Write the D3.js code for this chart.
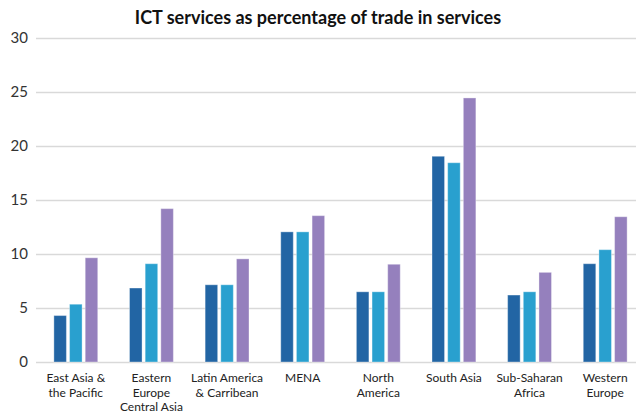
<!DOCTYPE html>
<html>
<head>
<meta charset="utf-8">
<script src="https://cdn.jsdelivr.net/npm/d3@7"></script>
<style>
  html, body { margin: 0; padding: 0; background: #fff; }
  svg { display: block; }
</style>
</head>
<body>
<svg id="chart" width="636" height="417"></svg>
<script>
// Regions (multi-line labels) and the three series shown per region
const regions = [
  ["East Asia &", "the Pacific"],
  ["Eastern", "Europe", "Central Asia"],
  ["Latin America", "& Carribean"],
  ["MENA"],
  ["North", "America"],
  ["South Asia"],
  ["Sub-Saharan", "Africa"],
  ["Western", "Europe"]
];
const seriesA = [4.3, 6.85, 7.15, 12.05, 6.5, 19.05, 6.2, 9.1];
const seriesB = [5.35, 9.1, 7.15, 12.05, 6.5, 18.45, 6.5, 10.4];
const seriesC = [9.65, 14.2, 9.55, 13.55, 9.05, 24.45, 8.3, 13.45];
const yTicks = [0, 5, 10, 15, 20, 25, 30];
const colors = ["#2265a4", "#29a0cf", "#9580bd"];

const svg = d3.select("#chart");
const margin = { top: 38, left: 38, bottom: 55 };
const height = 417;

const x = d3.scaleBand()
  .domain(d3.range(regions.length))
  .range([38, 643])
  .paddingInner(0.42)
  .paddingOuter(0.21);

const y = d3.scaleLinear().domain([0, 30]).range([362, 38]);

const sub = d3.scaleBand().domain([0, 1, 2]).range([0, x.bandwidth()]).paddingInner(0.2);

// Title
svg.append("text")
  .attr("x", 318).attr("y", 24)
  .attr("text-anchor", "middle")
  .attr("font-family", "Lato, 'Noto Sans', sans-serif")
  .attr("font-weight", "bold")
  .attr("font-size", 18)
  .attr("fill", "#111")
  .text("ICT services as percentage of trade in services");

// Horizontal gridlines and y tick labels
const yAxis = d3.axisLeft(y).tickValues(yTicks).tickSize(-(636 - 36)).tickPadding(8);
const ya = svg.append("g").attr("transform", "translate(36,0)").call(yAxis);
ya.select(".domain").remove();
ya.selectAll(".tick line").attr("stroke", "#d9d9d9").attr("stroke-width", 1.5);
ya.selectAll(".tick text")
  .attr("font-family", "Lato, 'Noto Sans', sans-serif")
  .attr("font-size", 15)
  .attr("fill", "#333");

// Bars
const series = [seriesA, seriesB, seriesC];
const groups = svg.append("g").selectAll("g")
  .data(regions.map((r, i) => i))
  .join("g")
  .attr("transform", i => `translate(${x(i)},0)`);

groups.selectAll("rect")
  .data(i => series.map((s, k) => ({ k, v: s[i] })))
  .join("rect")
  .attr("x", d => sub(d.k))
  .attr("width", sub.bandwidth())
  .attr("y", d => y(d.v))
  .attr("height", d => y(0) - y(d.v))
  .attr("fill", d => colors[d.k])
  .attr("stroke", "#ffffff")
  .attr("stroke-opacity", 0.35)
  .attr("stroke-width", 1);

// Category labels
const labels = svg.append("g").selectAll("text")
  .data(regions.map((r, i) => ({ r, i })))
  .join("text")
  .attr("x", d => x(d.i) + x.bandwidth() / 2)
  .attr("y", 382)
  .attr("text-anchor", "middle")
  .attr("font-family", "Lato, 'Noto Sans', sans-serif")
  .attr("font-size", 12)
  .attr("fill", "#222");
labels.selectAll("tspan")
  .data(d => d.r.map(t => ({ t, cx: x(d.i) + x.bandwidth() / 2 })))
  .join("tspan")
  .attr("x", d => d.cx)
  .attr("dy", (d, j) => j === 0 ? 0 : 14.5)
  .text(d => d.t);
</script>
</body>
</html>
